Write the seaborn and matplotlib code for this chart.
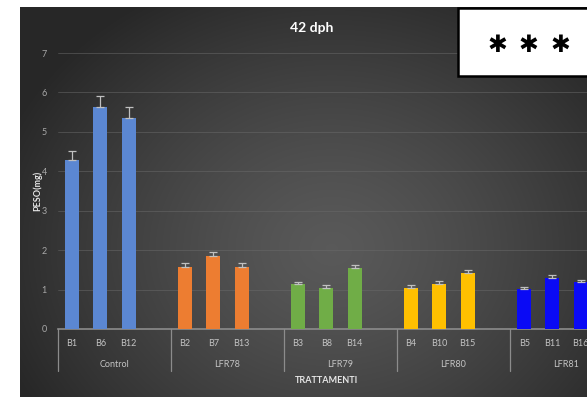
import numpy as np
import pandas as pd
import matplotlib
matplotlib.use("Agg")
import matplotlib.pyplot as plt
import matplotlib.transforms as mtransforms
from matplotlib.patches import Rectangle
import seaborn as sns

# Weight (mg) at 42 dph per tank, grouped by treatment
groups = ["Control", "LFR78", "LFR79", "LFR80", "LFR81"]
tanks = [["B1", "B6", "B12"], ["B2", "B7", "B13"], ["B3", "B8", "B14"],
         ["B4", "B10", "B15"], ["B5", "B11", "B16"]]
peso = [4.29, 5.63, 5.36,
        1.58, 1.84, 1.58,
        1.14, 1.05, 1.54,
        1.05, 1.15, 1.41,
        1.01, 1.30, 1.18]
errore = [0.23, 0.28, 0.27,
          0.09, 0.11, 0.09,
          0.06, 0.06, 0.08,
          0.06, 0.06, 0.08,
          0.05, 0.08, 0.06]
colori = ["#5B87D2", "#ED7D31", "#70AD47", "#FFC000", "#0A0AF5"]
y_ticks = [0, 1, 2, 3, 4, 5, 6, 7]

sns.set_theme(style="dark")
plt.rcParams["font.family"] = ["Lato", "DejaVu Sans"]

# each group gets three tank slots plus one empty slot
order, tick_labels = [], []
rows = []
k = 0
for g, (grp, tt) in enumerate(zip(groups, tanks)):
    for t in tt:
        order.append(t)
        tick_labels.append(t)
        rows.append({"vasca": t, "gruppo": grp, "peso": peso[k], "err": errore[k]})
        k += 1
    order.append(f"_vuoto{g}")
    tick_labels.append("")
df = pd.DataFrame(rows)

W, H = 587, 397
fig = plt.figure(figsize=(W / 100, H / 100), dpi=100)
fig.patch.set_facecolor("white")

# dark radial-gradient backdrop
bg = fig.add_axes([20 / W, 0, (W - 20) / W, (H - 7) / H])
nx, ny = 567, 390
xx, yy = np.meshgrid(np.linspace(0, 1, nx), np.linspace(0, 1, ny))
r = np.sqrt(((xx - 0.55) / 0.62) ** 2 + ((yy - 0.62) / 0.75) ** 2)
r = np.clip(r, 0, 1)
val = 0.35 - (0.35 - 0.155) * r ** 1.3
bg.imshow(np.dstack([val, val, val]), aspect="auto", extent=[0, 1, 0, 1])
bg.set_axis_off()

x0, x1 = 58, 58 + 20 * 28.25
y0, y1 = 329, 53
ax = fig.add_axes([x0 / W, (H - y0) / H, (x1 - x0) / W, (y0 - y1) / H])
ax.set_facecolor("none")

sns.barplot(data=df, x="vasca", y="peso", hue="gruppo", order=order,
            hue_order=groups, palette=colori, dodge=False, width=0.5,
            saturation=1, linewidth=0, legend=False, errorbar=None, ax=ax,
            zorder=3)

pos = [order.index(v) for v in df["vasca"]]
ax.errorbar(pos, df["peso"], yerr=[np.zeros(len(df)), df["err"]], fmt="none",
            ecolor="#c0c0c0", elinewidth=0.9, capsize=2.8, capthick=0.9, zorder=4)

ax.set_xlim(-0.5, len(order) - 0.5)
ax.set_ylim(0, 7)
ax.set_yticks(y_ticks)
ax.set_yticklabels([str(v) for v in y_ticks])
ax.set_xticks(range(len(order)))
ax.set_xticklabels(tick_labels)
ax.tick_params(axis="x", length=0, pad=7, labelsize=6.5, labelcolor="#c4c4c4")
ax.tick_params(axis="y", length=0, pad=8, labelsize=6.5, labelcolor="#a8a8a8")
ax.grid(axis="y", color="#6a6a6a", linewidth=0.6, alpha=0.6)
ax.grid(axis="x", visible=False)
for s in ["top", "right", "left"]:
    ax.spines[s].set_visible(False)
ax.spines["bottom"].set_color("#8c8c8c")
ax.spines["bottom"].set_linewidth(1.2)
ax.set_xlabel("")
ax.set_ylabel("")

# group separators and group labels below the axis
tr = mtransforms.blended_transform_factory(ax.transData, ax.transAxes)
for g, grp in enumerate(groups):
    xs = g * 4 - 0.5
    ax.plot([xs, xs], [0, -0.152], transform=tr, color="#8c8c8c", lw=0.9,
            clip_on=False)
    ax.text(g * 4 + 1.5, -0.13, grp, transform=tr, ha="center", va="center",
            fontsize=6.5, color="#c4c4c4")

ax.text(9.0, -0.188, "TRATTAMENTI", transform=tr, ha="center", va="center",
        fontsize=6.5, color="#e6e6e6", fontweight="bold")
fig.text(37 / W, 1 - 191 / H, "PESO(mg)", rotation=90, ha="center",
         va="center", fontsize=6.5, color="#e6e6e6", fontweight="bold")
fig.text(312 / W, 1 - 28 / H, "42 dph", ha="center", va="center",
         fontsize=10, color="white", fontweight="bold")

# significance box
fig.patches.append(Rectangle((458 / W, 1 - 76 / H), 140 / W, 68 / H,
                             transform=fig.transFigure, facecolor="white",
                             edgecolor="black", linewidth=1.8, zorder=10))
for xp in [497, 528, 560]:
    fig.text(xp / W, 1 - 45 / H, "\u2731", ha="center", va="center",
             fontsize=17, color="black", family="DejaVu Sans", zorder=11)

fig.savefig("out.png", dpi=100, facecolor=fig.get_facecolor())
